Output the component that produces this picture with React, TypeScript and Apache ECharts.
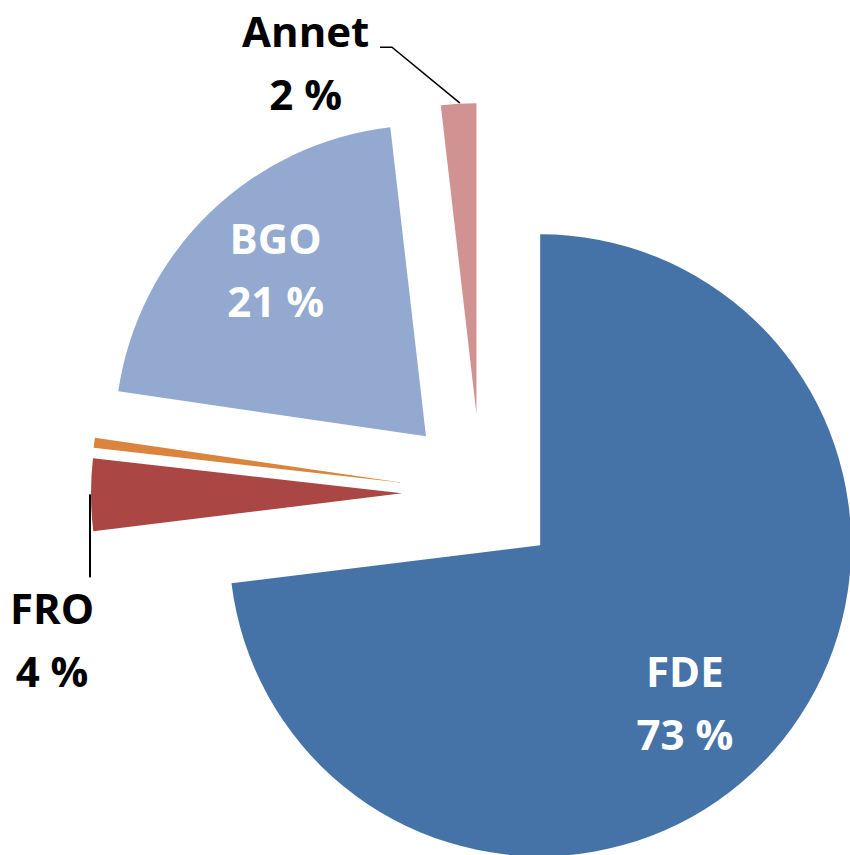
import React, { useEffect, useRef } from 'react';
import * as echarts from 'echarts';

// ---- data ----
const categories = ['FDE', 'FRO', 'Andre', 'BGO', 'Annet'];
const values = [73.06, 3.75, 0.51, 20.86, 1.83];
const colors = ['#4572A7', '#AA4643', '#DB843D', '#93A9CF', '#D19392'];
const labelVisible = [true, true, false, true, true];
const labelInside = [true, false, false, true, false];

// ---- label placement tweaks (pixels, relative to the library's default spot) ----
const labelShift: Record<number, [number, number]> = {
  0: [26, 52],
  1: [11, 144],
  3: [-40, -54],
  4: [-117, -27],
};
// leader lines (pixels, in the slice's un-exploded frame)
const leaderPoints: Record<number, number[][]> = {
  1: [[169, 494], [169, 535], [169, 577]],
  4: [[464.5, 182], [396.5, 126], [384.5, 126]],
};
const leaderWidths: Record<number, number> = { 1: 2, 4: 1.5 };

export default function App() {
  const ref = useRef<HTMLDivElement>(null);
  useEffect(() => {
    if (!ref.current) return;
    const chart = echarts.init(ref.current, undefined, { renderer: 'svg' });
    const data = categories.map((name, i) => ({
      name,
      value: values[i],
      selected: true,
      itemStyle: { color: colors[i] },
      label: {
        show: labelVisible[i],
        position: labelInside[i] ? 'inside' : 'outside',
        color: labelInside[i] ? '#FFFFFF' : '#000000',
      },
      labelLine: {
        show: !!leaderPoints[i],
        lineStyle: { color: '#000000', width: leaderWidths[i] || 1 },
      },
    }));
    chart.setOption({
      animation: false,
      backgroundColor: '#FFFFFF',
      series: [
        {
          type: 'pie',
          center: [481, 493],
          radius: 311,
          startAngle: 90,
          clockwise: true,
          selectedMode: 'multiple',
          selectedOffset: 79,
          avoidLabelOverlap: false,
          silent: true,
          emphasis: { disabled: true },
          itemStyle: { borderWidth: 0 },
          select: { itemStyle: { borderWidth: 0 } },
          label: {
            fontFamily: 'Open Sans',
            fontWeight: 'bold',
            fontSize: 42,
            lineHeight: 63,
            align: 'center',
            textBorderWidth: 0,
            formatter: (p: any) => `${p.name}\n${Math.round(p.percent)} %`,
          },
          labelLine: { smooth: false },
          labelLayout: (p: any) => {
            const s = labelShift[p.dataIndex];
            if (!s) return {};
            const res: any = { dx: s[0], dy: s[1], align: 'center', verticalAlign: 'middle' };
            if (leaderPoints[p.dataIndex]) res.labelLinePoints = leaderPoints[p.dataIndex];
            return res;
          },
          data,
        },
      ],
    });
    return () => chart.dispose();
  }, []);
  return (
    <div
      ref={ref}
      style={{ position: 'absolute', left: 0, top: 0, width: 850, height: 855 }}
    />
  );
}
